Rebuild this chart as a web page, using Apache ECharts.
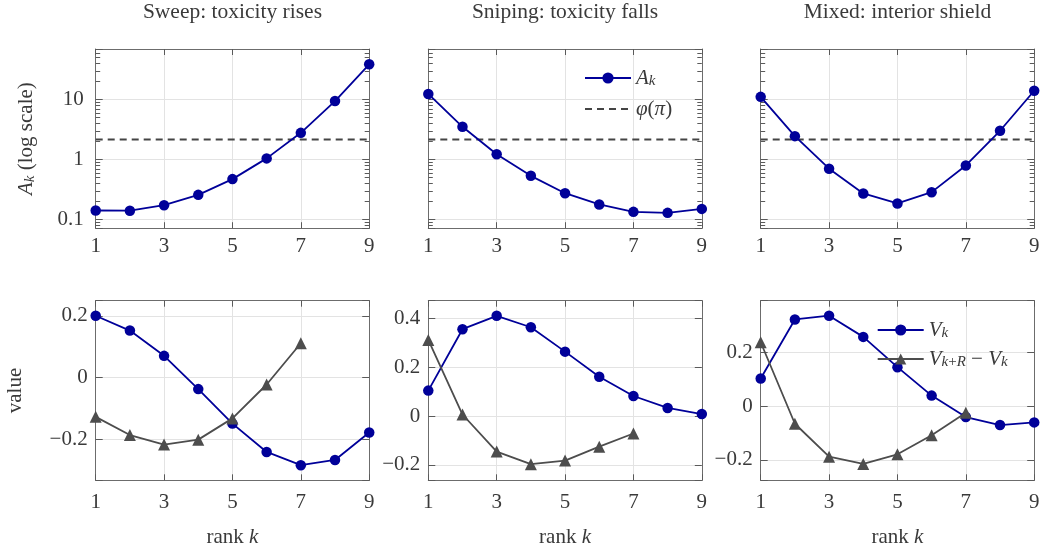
<!DOCTYPE html>
<html>
<head>
<meta charset="utf-8">
<script src="https://cdn.jsdelivr.net/npm/echarts@6/dist/echarts.min.js"></script>
<style>
  html, body { margin: 0; padding: 0; background: #ffffff; }
  #chart { width: 1041px; height: 550px; }
</style>
</head>
<body>
<div id="chart"></div>
<script>
// ---- data -------------------------------------------------------------
const ranks = [1, 2, 3, 4, 5, 6, 7, 8, 9];
const panelTitles = ['Sweep: toxicity rises', 'Sniping: toxicity falls', 'Mixed: interior shield'];

// A_k per regime (log axis)
const sweepA  = [0.141, 0.140, 0.173, 0.257, 0.47, 1.04, 2.77, 9.37, 38.3];
const snipeA  = [12.3, 3.49, 1.22, 0.533, 0.274, 0.178, 0.134, 0.129, 0.150];
const mixedA  = [11.0, 2.44, 0.70, 0.271, 0.185, 0.285, 0.794, 3.0, 13.9];
const phiPi   = 2.15;

// V_k and V_{k+R} - V_k per regime
const sweepV  = [0.200, 0.152, 0.070, -0.038, -0.150, -0.242, -0.285, -0.268, -0.179];
const sweepDV = [-0.128, -0.187, -0.218, -0.202, -0.133, -0.023, 0.111];
const snipeV  = [0.105, 0.357, 0.412, 0.365, 0.265, 0.162, 0.083, 0.034, 0.009];
const snipeDV = [0.313, 0.007, -0.145, -0.197, -0.182, -0.125, -0.071];
const mixedV  = [0.104, 0.324, 0.338, 0.259, 0.146, 0.040, -0.040, -0.070, -0.060];
const mixedDV = [0.239, -0.065, -0.188, -0.215, -0.179, -0.108, -0.024];

// tick structure
const xTickStep = 2;
const logMinorTicks = [0.08, 0.09, 0.2, 0.3, 0.4, 0.5, 0.6, 0.7, 0.8, 0.9,
                       2, 3, 4, 5, 6, 7, 8, 9, 20, 30, 40, 50, 60];
const valueTickStep = 0.2;

// ---- styling / layout -------------------------------------------------
const SERIF = 'Liberation Serif';
const TEXT = '#3a3a3a';
const FRAME = '#6c6c6c';
const TICK = '#5a5a5a';
const GRIDLINE = '#e3e3e3';
const NAVY = '#000099';
const SLATE = '#4d4d4d';
const DASH = '#444444';
const FS = 21;

const panelLefts = [95.7, 428.3, 760.7];
const panelWidth = 273.5;
const rowTops = [49, 300.7];
const rowHeights = [179.2, 179.6];

const logRange = [0.0716, 68.9];
const valueRanges = [[-0.334, 0.249], [-0.263, 0.474], [-0.276, 0.394]];

const topSets = [sweepA, snipeA, mixedA];
const bottomSets = [[sweepV, sweepDV], [snipeV, snipeDV], [mixedV, mixedDV]];

const rich = {
  r:  { fontFamily: SERIF, fontSize: FS, color: TEXT, lineHeight: 22 },
  i:  { fontFamily: SERIF, fontSize: FS, fontStyle: 'italic', color: TEXT, lineHeight: 22 },
  s:  { fontFamily: SERIF, fontSize: 15, fontStyle: 'italic', color: TEXT, lineHeight: 12, verticalAlign: 'bottom' },
  sr: { fontFamily: SERIF, fontSize: 15, color: TEXT, lineHeight: 12, verticalAlign: 'bottom' }
};

const legendLabels = {
  'A_k': '{i|A}{s|k}',
  'phi': '{i|\u03c6}{r|(}{i|\u03c0}{r|)}',
  'V_k': '{i|V}{s|k}',
  'dV':  '{i|V}{s|k}{sr|+}{s|R}{r| \u2212 }{i|V}{s|k}'
};

function pairs(vals) {
  return vals.map((v, i) => [ranks[i], v]);
}

function logLabel(v) {
  const lg = Math.log10(v);
  if (Math.abs(lg - Math.round(lg)) > 1e-6) return '';
  return String(Math.pow(10, Math.round(lg)));
}

function valueLabel(v) {
  const q = v / valueTickStep;
  if (Math.abs(q - Math.round(q)) > 1e-6) return '';
  const r = Math.round(q) * valueTickStep;
  if (Math.abs(r) < 1e-9) return '0';
  return (r < 0 ? '\u2212' : '') + Math.abs(r).toFixed(1);
}

const frameLine = { show: true, onZero: false, lineStyle: { color: FRAME, width: 1 } };
const tickStyle = { color: TICK, width: 1 };

const grids = [], xAxes = [], yAxes = [], series = [];

for (let row = 0; row < 2; row++) {
  for (let col = 0; col < 3; col++) {
    const g = row * 3 + col;
    grids.push({
      left: panelLefts[col], top: rowTops[row],
      width: panelWidth, height: rowHeights[row],
      containLabel: false, outerBoundsMode: 'none'
    });

    // x: bottom axis with labels, top mirror carrying the panel title
    xAxes.push({
      type: 'value', gridIndex: g, position: 'bottom',
      min: 1, max: 9, interval: xTickStep,
      axisLine: frameLine,
      axisTick: { show: true, inside: true, length: 6, lineStyle: tickStyle },
      axisLabel: { show: true, fontFamily: SERIF, fontSize: FS, color: TEXT, margin: row === 0 ? 8 : 12 },
      splitLine: { show: true, lineStyle: { color: GRIDLINE, width: 1 } },
      name: row === 1 ? '{r|rank }{i|k}' : '',
      nameLocation: 'middle', nameGap: 46, nameMoveOverlap: false,
      nameTextStyle: { rich: rich }
    });
    xAxes.push({
      type: 'value', gridIndex: g, position: 'top',
      min: 1, max: 9, interval: xTickStep,
      axisLine: frameLine,
      axisTick: { show: true, inside: true, length: 6, lineStyle: tickStyle },
      axisLabel: { show: false },
      splitLine: { show: false },
      name: row === 0 ? panelTitles[col] : '',
      nameLocation: 'middle', nameGap: 26, nameMoveOverlap: false,
      nameTextStyle: { fontFamily: SERIF, fontSize: 21.5, color: TEXT }
    });

    if (row === 0) {
      const logAxis = {
        type: 'log', logBase: 10, gridIndex: g,
        min: logRange[0], max: logRange[1],
        axisLine: frameLine,
        axisTick: { show: true, inside: true, length: 7, lineStyle: tickStyle }
      };
      yAxes.push(Object.assign({}, logAxis, {
        position: 'left',
        axisLabel: { show: col === 0, formatter: logLabel, fontFamily: SERIF, fontSize: FS, color: TEXT, margin: 12 },
        splitLine: { show: true, lineStyle: { color: GRIDLINE, width: 1 } },
        name: col === 0 ? '{i|A}{s|k}{r| (log scale)}' : '',
        nameLocation: 'middle', nameGap: 58, nameMoveOverlap: false,
        nameTextStyle: { rich: rich }
      }));
      yAxes.push(Object.assign({}, logAxis, {
        position: 'right',
        axisLabel: { show: false },
        splitLine: { show: false }
      }));

      series.push({
        name: 'phi', type: 'line', xAxisIndex: 2 * g, yAxisIndex: 2 * g,
        data: [[1, phiPi], [9, phiPi]],
        symbol: 'none', silent: true, z: 3,
        lineStyle: { color: DASH, width: 2, type: [7, 5] },
        itemStyle: { color: DASH }
      });
      series.push({
        name: 'A_k', type: 'line', xAxisIndex: 2 * g, yAxisIndex: 2 * g,
        data: pairs(topSets[col]),
        symbol: 'circle', symbolSize: 10.5, z: 4,
        lineStyle: { color: NAVY, width: 1.8 },
        itemStyle: { color: NAVY }
      });
      // minor ticks of the log axis on both vertical edges
      series.push({
        type: 'custom', xAxisIndex: 2 * g, yAxisIndex: 2 * g,
        data: logMinorTicks.map(v => [1, v]),
        silent: true, z: 2, clip: true,
        renderItem: function (params, api) {
          const v = api.value(1);
          const l = api.coord([1, v]);
          const r = api.coord([9, v]);
          const y = Math.round(l[1]) + 0.5;
          return {
            type: 'group',
            children: [
              { type: 'line', shape: { x1: l[0], y1: y, x2: l[0] + 4.5, y2: y }, style: { stroke: TICK, lineWidth: 1 } },
              { type: 'line', shape: { x1: r[0] - 4.5, y1: y, x2: r[0], y2: y }, style: { stroke: TICK, lineWidth: 1 } }
            ]
          };
        }
      });
    } else {
      const valAxis = {
        type: 'value', gridIndex: g,
        min: valueRanges[col][0], max: valueRanges[col][1],
        splitNumber: 3, minInterval: valueTickStep, maxInterval: valueTickStep,
        axisLine: frameLine,
        axisTick: { show: true, inside: true, length: 7, lineStyle: tickStyle }
      };
      yAxes.push(Object.assign({}, valAxis, {
        position: 'left',
        axisLabel: { show: true, formatter: valueLabel, fontFamily: SERIF, fontSize: FS, color: TEXT, margin: 8 },
        splitLine: { show: true, lineStyle: { color: GRIDLINE, width: 1 } },
        name: col === 0 ? 'value' : '',
        nameLocation: 'middle', nameGap: 70, nameMoveOverlap: false,
        nameTextStyle: { fontFamily: SERIF, fontSize: FS, color: TEXT }
      }));
      yAxes.push(Object.assign({}, valAxis, {
        position: 'right',
        axisLabel: { show: false },
        splitLine: { show: false }
      }));

      series.push({
        name: 'V_k', type: 'line', xAxisIndex: 2 * g, yAxisIndex: 2 * g,
        data: pairs(bottomSets[col][0]),
        symbol: 'circle', symbolSize: 10.5, z: 3,
        lineStyle: { color: NAVY, width: 1.8 },
        itemStyle: { color: NAVY }
      });
      series.push({
        name: 'dV', type: 'line', xAxisIndex: 2 * g, yAxisIndex: 2 * g,
        data: pairs(bottomSets[col][1]),
        symbol: 'triangle', symbolSize: 12, z: 4,
        lineStyle: { color: SLATE, width: 1.8 },
        itemStyle: { color: SLATE }
      });
    }
  }
}

const legendBase = {
  orient: 'vertical', padding: 0,
  itemWidth: 46, itemHeight: 14,
  selectedMode: false,
  formatter: name => legendLabels[name],
  textStyle: { fontFamily: SERIF, fontSize: FS, color: TEXT, lineHeight: 22, rich: rich }
};

const option = {
  animation: false,
  backgroundColor: '#ffffff',
  grid: grids,
  xAxis: xAxes,
  yAxis: yAxes,
  legend: [
    Object.assign({}, legendBase, {
      data: ['A_k', { name: 'phi', itemStyle: { opacity: 0 } }],
      left: 584, top: 67, itemGap: 9
    }),
    Object.assign({}, legendBase, { data: ['V_k', 'dV'], left: 876.7, top: 319, itemGap: 7 })
  ],
  series: series
};

const chart = echarts.init(document.getElementById('chart'), null, { renderer: 'canvas' });
chart.setOption(option);
</script>
</body>
</html>
